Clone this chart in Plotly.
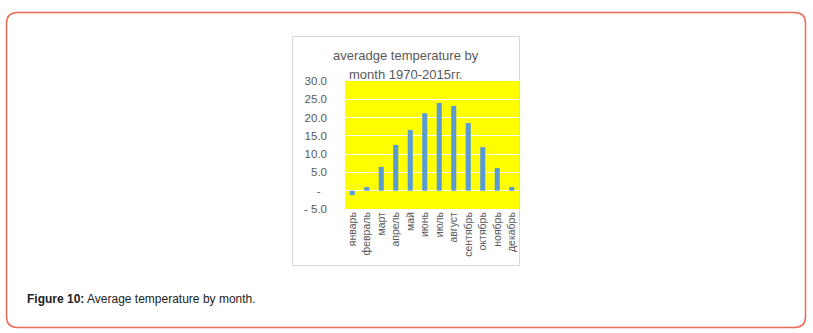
import plotly.graph_objects as go

months = ["январь", "февраль", "март", "апрель", "май", "июнь",
          "июль", "август", "сентябрь", "октябрь", "ноябрь", "декабрь"]
temps = [-1.2, 1.0, 6.5, 12.5, 16.6, 21.2, 24.0, 23.2, 18.5, 11.9, 6.2, 1.0]
ytick_vals = [-5, 0, 5, 10, 15, 20, 25, 30]
ytick_text = ["-\u00a05.0", "-\u00a0\u00a0", "5.0", "10.0", "15.0", "20.0", "25.0", "30.0"]

W, H = 813, 333
L, R, T, B = 345, 519, 81, 209


def px(x):
    return (x - L) / (R - L)


def py(y):
    return (B - y) / (B - T)


def rounded_rect(x0, y0, x1, y1, r):
    X0, X1 = px(x0), px(x1)
    Y0, Y1 = py(y0), py(y1)
    rx = r / (R - L)
    ry = r / (B - T)
    return (f"M {X0 + rx},{Y0} L {X1 - rx},{Y0} Q {X1},{Y0} {X1},{Y0 - ry} "
            f"L {X1},{Y1 + ry} Q {X1},{Y1} {X1 - rx},{Y1} "
            f"L {X0 + rx},{Y1} Q {X0},{Y1} {X0},{Y1 + ry} "
            f"L {X0},{Y0 - ry} Q {X0},{Y0} {X0 + rx},{Y0} Z")


fig = go.Figure()
fig.add_trace(go.Bar(x=months, y=temps, marker_color="#5b9bd5", marker_line_width=0))

gray = "#595959"
fig.update_layout(
    width=W, height=H,
    margin=dict(l=L, r=W - R, t=T, b=H - B, pad=0),
    paper_bgcolor="white",
    plot_bgcolor="#ffff00",
    bargap=0.65,
    showlegend=False,
    font=dict(family="Liberation Sans", color=gray, size=11),
    xaxis=dict(
        tickangle=-90, showgrid=False, zeroline=False, showline=False,
        ticks="", tickfont=dict(size=10.5, color=gray), ticklabelstandoff=0,
    ),
    yaxis=dict(
        range=[-5, 30], tickvals=ytick_vals, ticktext=ytick_text,
        showgrid=True, gridcolor="white", gridwidth=1, zeroline=False,
        showline=False, ticks="", tickfont=dict(size=11.5, color=gray),
        ticklabelstandoff=17,
    ),
    shapes=[
        dict(type="rect", xref="paper", yref="paper",
             x0=px(292.5), x1=px(519.5), y0=py(36.5), y1=py(265.5),
             line=dict(color="#d9d9d9", width=1), fillcolor="rgba(0,0,0,0)", layer="above"),
        dict(type="path", xref="paper", yref="paper",
             path=rounded_rect(6.5, 12.5, 805.5, 327.5, 11),
             line=dict(color="#f06a58", width=1.5), fillcolor="rgba(0,0,0,0)", layer="above"),
    ],
    annotations=[
        dict(text="averadge temperature by", xref="paper", yref="paper",
             x=px(405.5), y=py(55), xanchor="center", yanchor="middle",
             showarrow=False, font=dict(size=13, color=gray)),
        dict(text="month 1970-2015гг.", xref="paper", yref="paper",
             x=px(405.5), y=py(74), xanchor="center", yanchor="middle",
             showarrow=False, font=dict(size=13, color=gray)),
        dict(text="<b>Figure 10:</b> Average temperature by month.", xref="paper", yref="paper",
             x=px(25), y=py(299), xanchor="left", yanchor="middle",
             showarrow=False, font=dict(size=12, color="#222222", family="Liberation Sans")),
    ],
)

fig.write_html("out.html")
